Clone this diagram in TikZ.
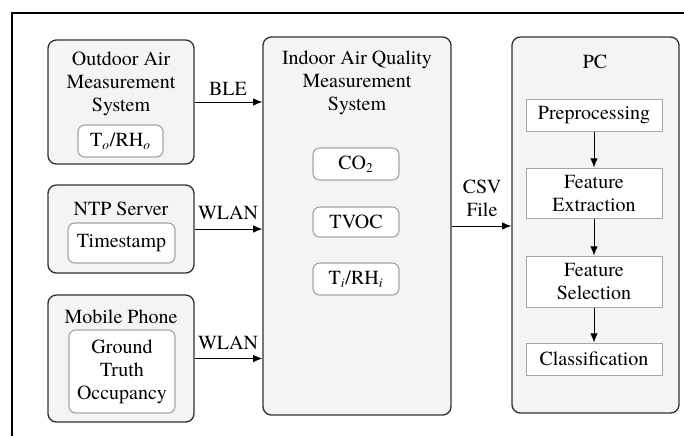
\documentclass[tikz,border=0pt]{standalone}
\usepackage{fontspec}
\setmainfont{texgyretermes}[Extension=.otf, UprightFont=*-regular, ItalicFont=*-italic, BoldFont=*-bold, BoldItalicFont=*-bolditalic]
\usetikzlibrary{arrows.meta}

\begin{document}
\begin{tikzpicture}[
    x=0.6pt, y=-0.6pt,
    every node/.style={align=center, inner sep=0pt, font=\rmfamily\fontsize{12}{13.8}\selectfont},
    outer/.style={draw=black!80, fill=gray!9, rounded corners=5pt, line width=0.8pt},
    inner/.style={draw=gray!70, fill=white, rounded corners=4pt, line width=0.7pt},
    stage/.style={draw=gray!70, fill=white, line width=0.6pt, minimum width=81.6pt},
    arrow/.style={-{Latex[length=5.5pt, width=4.5pt]}, line width=0.6pt}
]
    \useasboundingbox (0,0) rectangle (684,436);
    \draw[line width=0.9pt] (12,436) -- (12,13) -- (684,13);

    \node[outer, minimum width=87.6pt, minimum height=74.4pt] (outdoor) at (121,102) {};
    \node[outer, minimum width=87.6pt, minimum height=52.8pt] (ntp) at (121,229) {};
    \node[outer, minimum width=87.6pt, minimum height=76.2pt] (phone) at (121,358.5) {};
    \node[outer, minimum width=112.8pt, minimum height=226.8pt] (indoor) at (357,226) {};
    \node[outer, minimum width=100.2pt, minimum height=225.6pt] (pc) at (595.5,225) {};

    \node (outdoortitle) at (121,84) {Outdoor Air\\Measurement\\System};
    \node[inner, minimum width=51pt, minimum height=19.2pt] (tho) at (120.5,141) {T\textsubscript{\itshape o}/RH\textsubscript{\itshape o}};
    \node (ntptitle) at (121,209) {NTP Server};
    \node[inner, minimum width=64.2pt, minimum height=24pt] (stamp) at (121.5,243) {Timestamp};
    \node (phonetitle) at (121,317) {Mobile Phone};
    \node[inner, minimum width=63.6pt, minimum height=49.8pt] (truth) at (122,371.5) {Ground\\Truth\\Occupancy};

    \node (indoortitle) at (357,83) {Indoor Air Quality\\Measurement\\System};
    \node[inner, minimum width=51.6pt, minimum height=19.2pt] (co2) at (356,164) {CO\textsubscript{2}};
    \node[inner, minimum width=51.6pt, minimum height=18pt] (tvoc) at (356,222) {TVOC};
    \node[inner, minimum width=51.6pt, minimum height=19.2pt] (thi) at (356,279) {T\textsubscript{\itshape i}/RH\textsubscript{\itshape i}};

    \node (pctitle) at (595,62) {PC};
    \node[stage, minimum height=19.2pt] (prep) at (594,115) {Preprocessing};
    \node[stage, minimum height=30pt] (fext) at (594,193) {Feature\\Extraction};
    \node[stage, minimum height=30.6pt] (fsel) at (594,281.5) {Feature\\Selection};
    \node[stage, minimum height=19.2pt] (clf) at (594,359) {Classification};

    \draw[arrow] (outdoor.east) -- (outdoor.east -| indoor.west);
    \draw[arrow] (ntp.east) -- (ntp.east -| indoor.west);
    \draw[arrow] (phone.east) -- (phone.east -| indoor.west);
    \draw[arrow] (indoor.east) -- (indoor.east -| pc.west);
    \draw[arrow] (prep) -- (fext);
    \draw[arrow] (fext) -- (fsel);
    \draw[arrow] (fsel) -- (clf);

    \node (ble) at (228,89) {BLE};
    \node (wlan1) at (228,213) {WLAN};
    \node (wlan2) at (228,343) {WLAN};
    \node (csv) at (482,198) {CSV\\File};
\end{tikzpicture}
\end{document}
